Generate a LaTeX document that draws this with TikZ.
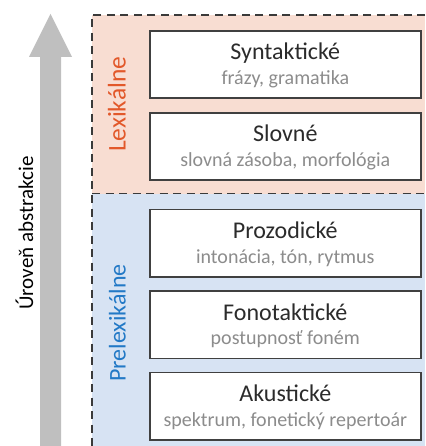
\documentclass[tikz,border=0pt]{standalone}
\usepackage{fontspec}
\setmainfont{Carlito}
\definecolor{boxline}{HTML}{404040}
\definecolor{dashgray}{HTML}{3A3A3A}
\definecolor{titlegray}{HTML}{2B2B2B}
\definecolor{subgray}{HTML}{8C8C8C}
\definecolor{lexfill}{HTML}{F8DDD2}
\definecolor{prefill}{HTML}{D7E3F3}
\definecolor{lexorange}{HTML}{E2582A}
\definecolor{preblue}{HTML}{2279C6}
\definecolor{arrowgray}{HTML}{BFBFBF}
\begin{document}
\begin{tikzpicture}[x=1pt,y=-1pt,
  layer/.style={draw=boxline,line width=1.6pt,fill=white,minimum width=271pt,minimum height=67.5pt,
    inner sep=0pt,anchor=north west},
  ttl/.style={anchor=base,inner sep=0pt,text=titlegray,font=\fontsize{24}{26}\selectfont},
  sub/.style={anchor=base,inner sep=0pt,text=subgray,font=\fontsize{20}{22}\selectfont},
  bnd/.style={draw=dashgray,line width=1.8pt,dash pattern=on 8pt off 5.5pt},
  grp/.style={rotate=90,inner sep=0pt,anchor=base}]
\useasboundingbox (0,0) rectangle (425,446);
% group backgrounds and borders
\fill[lexfill] (92,15) rectangle (425,193.5);
\fill[prefill] (92,193.5) rectangle (425,446);
\draw[bnd] (425,15) -- (92,15) -- (92,446);
\draw[bnd] (92,193.5) -- (425,193.5);
% abstraction arrow
\fill[arrowgray] (40,446) -- (40,57) -- (29,57) -- (50.5,14) -- (72,57) -- (61,57) -- (61,446) -- cycle;
\node[rotate=90,inner sep=0pt,anchor=base,font=\fontsize{21}{23}\selectfont,text=black] (lvl) at (33,233) {Úroveň abstrakcie};
% group labels
\node[grp,text=lexorange,font=\fontsize{25.5}{27}\selectfont] (lex) at (125.5,104.3) {Lexikálne};
\node[grp,text=preblue,font=\fontsize{24}{26}\selectfont] (pre) at (125.5,322.8) {Prelexikálne};
% layers: box, title, subtitle
\node[layer] (syn) at (149,30) {};
\path (syn.north) ++(0,30) node[ttl] (synT) {Syntaktické} ++(0,24.5) node[sub] (synS) {frázy, gramatika};
\node[layer] (slo) at (149,112) {};
\path (slo.north) ++(0,30) node[ttl] (sloT) {Slovné} ++(0,24.5) node[sub] (sloS) {slovná zásoba, morfológia};
\node[layer] (pro) at (149,208.5) {};
\path (pro.north) ++(0,30) node[ttl] (proT) {Prozodické} ++(0,24.5) node[sub] (proS) {intonácia, tón, rytmus};
\node[layer] (fon) at (149,290) {};
\path (fon.north) ++(0,30) node[ttl] (fonT) {Fonotaktické} ++(0,24.5) node[sub] (fonS) {postupnosť foném};
\node[layer] (aku) at (149,371.5) {};
\path (aku.north) ++(0,30) node[ttl] (akuT) {Akustické} ++(0,24.5) node[sub] (akuS) {spektrum, fonetický repertoár};
\end{tikzpicture}
\end{document}
